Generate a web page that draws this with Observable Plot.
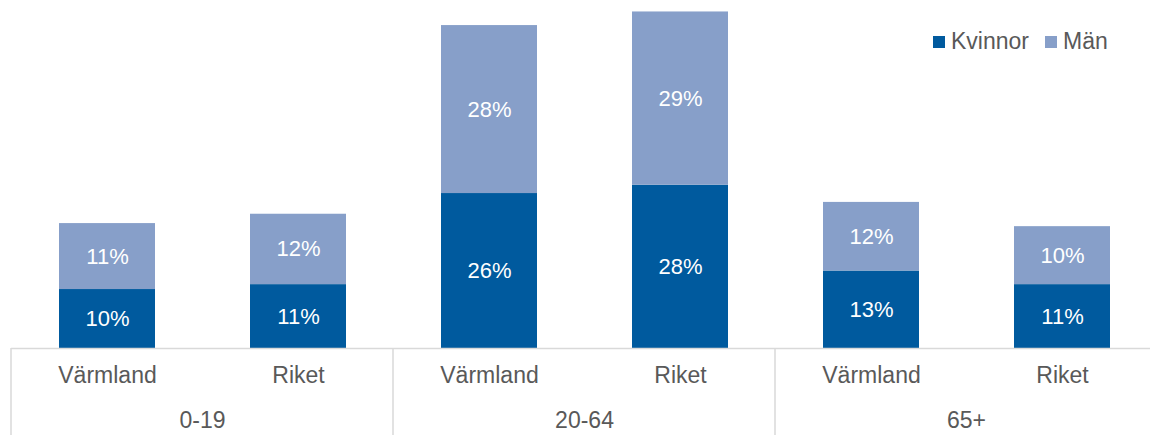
<!DOCTYPE html>
<html>
<head>
<meta charset="utf-8">
<script src="https://cdn.jsdelivr.net/npm/d3@7"></script>
<script src="https://cdn.jsdelivr.net/npm/@observablehq/plot@0.6"></script>
<style>
  html, body { margin: 0; padding: 0; background: #fff; overflow: hidden; }
  #wrap { position: relative; width: 1150px; height: 435px; font-family: "Liberation Sans", Arial, sans-serif; }
  #legend { position: absolute; left: 933px; top: 28px; display: flex; align-items: center; font-size: 23px; color: #595959; }
  #legend .item { display: flex; align-items: center; margin-right: 16px; }
  #legend .sw { width: 12px; height: 12px; margin-right: 6px; }
</style>
</head>
<body>
<div id="wrap"><div id="legend"></div></div>
<script>
const groups = ["0-19", "20-64", "65+"];
const regions = ["Värmland", "Riket"];
const series = ["Kvinnor", "Män"];
const colors = ["#005A9E", "#879FC9"];
// order: 0-19 Värmland, 0-19 Riket, 20-64 Värmland, 20-64 Riket, 65+ Värmland, 65+ Riket
const kvinnor = [9.97, 10.8, 26.2, 27.6, 13.1, 10.8];
const man = [11.15, 11.9, 28.4, 29.3, 11.6, 9.8];

const values = [kvinnor, man];
const data = [];
series.forEach((s, si) => {
  groups.forEach((g, gi) => {
    regions.forEach((r, ri) => {
      data.push({group: g, region: r, series: s, value: values[si][gi * regions.length + ri]});
    });
  });
});

const width = 1150, height = 435;
const plot = Plot.plot({
  width, height,
  marginLeft: 10, marginRight: 0, marginTop: 2, marginBottom: 87,
  style: {fontFamily: '"Liberation Sans", Arial, sans-serif', fontSize: "22px", background: "#fff"},
  fx: {domain: groups, padding: 0, range: [10, 1157], label: null},
  x: {domain: regions, paddingInner: 0.5, paddingOuter: 0.25, label: null},
  y: {domain: [0, 58.5], axis: null},
  color: {domain: series, range: colors},
  marks: [
    Plot.barY(data, Plot.stackY({fx: "group", x: "region", y: "value", fill: "series", order: series})),
    Plot.text(data, Plot.stackY({fx: "group", x: "region", y: "value", z: "series", order: series,
      text: d => Math.round(d.value) + "%", fill: "white", fontSize: 22})),
    Plot.ruleY([0], {stroke: "#d9d9d9", strokeWidth: 1.5}),
    Plot.axisX({anchor: "bottom", tickSize: 0, tickPadding: 18, fontSize: 23, color: "#595959", label: null}),
    Plot.axisFx({anchor: "bottom", tickSize: 0, tickPadding: 63, fontSize: 23, color: "#595959", label: null})
  ]
});
document.getElementById("wrap").prepend(plot);

// group separators drawn with the plot's own scales
const fx = plot.scale("fx");
const ys = plot.scale("y");
const y0 = ys.apply(0);
const bounds = groups.map(g => fx.apply(g)).concat([fx.apply(groups[groups.length - 1]) + fx.bandwidth]);
d3.select(plot).append("g")
  .selectAll("line").data(bounds).join("line")
  .attr("x1", d => d).attr("x2", d => d)
  .attr("y1", y0).attr("y2", height)
  .attr("stroke", "#d9d9d9").attr("stroke-width", 1.5);

// legend
const legend = d3.select("#legend");
series.forEach((s, i) => {
  const it = legend.append("div").attr("class", "item");
  it.append("div").attr("class", "sw").style("background", colors[i]);
  it.append("span").text(s);
});
</script>
</body>
</html>
